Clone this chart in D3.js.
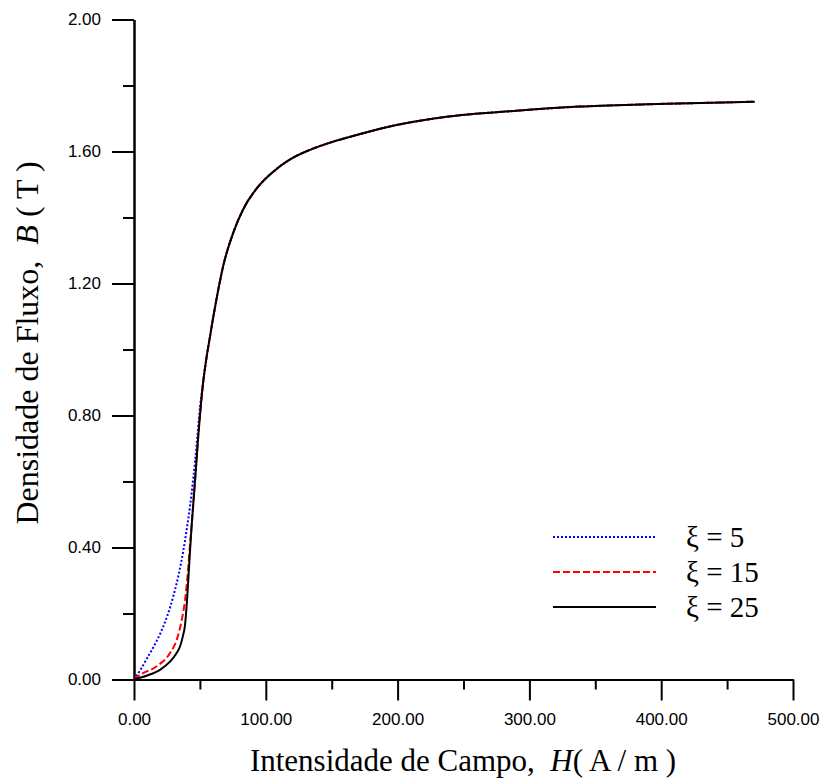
<!DOCTYPE html>
<html><head><meta charset="utf-8">
<script src="https://cdn.jsdelivr.net/npm/d3@7"></script>
<style>body{margin:0;background:#fff}</style>
</head><body>
<svg id="c" width="826" height="781"></svg>
<script>
// Shared upper branch (H in A/m, B in T)
const upperH = [52.6, 55, 57.7, 60.2, 62.7, 67.8, 75.4, 82.9, 93.1, 105.7, 118.4, 133.5, 151.2, 169, 190, 237, 288, 338, 389, 439.5, 471];
const upperB = [0.905, 0.975, 1.04, 1.10, 1.155, 1.255, 1.355, 1.425, 1.488, 1.539, 1.576, 1.605, 1.630, 1.650, 1.672, 1.705, 1.723, 1.736, 1.743, 1.748, 1.751];
// Lower branches per xi
const xi5H  = [0, 5, 10, 15, 20, 25, 30, 34, 37.4, 40, 42.5, 45, 47.5, 50.2];
const xi5B  = [0, 0.03, 0.065, 0.10, 0.14, 0.19, 0.255, 0.32, 0.39, 0.455, 0.525, 0.61, 0.71, 0.83];
const xi15H = [0, 4.5, 17.2, 27.3, 32.4, 36.2, 38.7, 41.2, 42.5, 43.8, 45.5, 47, 48.8, 50.7];
const xi15B = [0, 0.014, 0.04, 0.08, 0.12, 0.18, 0.24, 0.34, 0.41, 0.47, 0.56, 0.64, 0.74, 0.83];
const xi25H = [0, 10, 20, 27.3, 32, 34.9, 37, 38.7, 40.4, 41.9, 43.8, 45.5, 47, 48.8, 50.7];
const xi25B = [0, 0.012, 0.03, 0.054, 0.078, 0.10, 0.13, 0.165, 0.25, 0.35, 0.47, 0.56, 0.64, 0.74, 0.83];
const seriesNames = ["ξ = 5", "ξ = 15", "ξ = 25"];
const xTicks = [0, 100, 200, 300, 400, 500];
const yTicks = [0, 0.4, 0.8, 1.2, 1.6, 2.0];

const svg = d3.select("#c");
const x = d3.scaleLinear().domain([0, 500]).range([134, 793]);
const y = d3.scaleLinear().domain([0, 2]).range([679.5, 19.5]);

function makeSeries(h, b) {
  const pts = h.map((v, i) => [v, b[i]]);
  return pts.concat(upperH.map((v, i) => [v, upperB[i]]));
}
const series = [
  {name: seriesNames[0], data: makeSeries(xi5H, xi5B), color: "#0000ff", dash: "2,2"},
  {name: seriesNames[1], data: makeSeries(xi15H, xi15B), color: "#ff0000", dash: "7,3"},
  {name: seriesNames[2], data: makeSeries(xi25H, xi25B), color: "#000000", dash: null}
];

const line = d3.line().x(d => x(d[0])).y(d => y(d[1])).curve(d3.curveMonotoneX);

// axes
const xAxisMajor = d3.axisBottom(x).tickValues(xTicks).tickSize(21).tickSizeOuter(0).tickFormat(d3.format(".2f"));
const xAxisMinor = d3.axisBottom(x).tickValues([50,150,250,350,450]).tickSize(10).tickSizeOuter(0).tickFormat("");
const yAxisMajor = d3.axisLeft(y).tickValues(yTicks).tickSize(22).tickSizeOuter(0).tickFormat(d3.format(".2f"));
const yAxisMinor = d3.axisLeft(y).tickValues([0.2,0.6,1.0,1.4,1.8]).tickSize(11).tickSizeOuter(0).tickFormat("");

function styleAxis(g) {
  g.select(".domain").attr("stroke", "#000").attr("stroke-width", 2);
  g.selectAll(".tick line").attr("stroke", "#000").attr("stroke-width", 2);
  g.selectAll(".tick text").attr("fill", "#000").style("font-family", "Liberation Sans, Arial, sans-serif").style("font-size", "17px");
}
const gx = svg.append("g").attr("transform", "translate(0,679.5)");
gx.call(xAxisMajor); styleAxis(gx);
gx.selectAll(".tick text").attr("dy", "0").attr("y", 45);
const gx2 = svg.append("g").attr("transform", "translate(0,679.5)");
gx2.call(xAxisMinor); styleAxis(gx2);
const gy = svg.append("g").attr("transform", "translate(134,0)");
gy.call(yAxisMajor); styleAxis(gy);
gy.selectAll(".tick text").attr("x", -33);
const gy2 = svg.append("g").attr("transform", "translate(134,0)");
gy2.call(yAxisMinor); styleAxis(gy2);

// curves
series.forEach(s => {
  svg.append("path").datum(s.data).attr("d", line)
    .attr("fill", "none").attr("stroke", s.color).attr("stroke-width", 2)
    .attr("stroke-dasharray", s.dash);
});

// legend
const legY = [537, 572, 607];
series.forEach((s, i) => {
  svg.append("line").attr("x1", 553).attr("x2", 656).attr("y1", legY[i]).attr("y2", legY[i])
    .attr("stroke", s.color).attr("stroke-width", 2).attr("stroke-dasharray", s.dash);
  svg.append("text").attr("x", 686).attr("y", legY[i] + 10)
    .style("font-family", "Liberation Serif, Times New Roman, serif").style("font-size", "29px")
    .attr("xml:space", "preserve")
    .text(s.name);
});

// titles
const xt = svg.append("text").attr("x", 463).attr("y", 771).attr("text-anchor", "middle")
  .style("font-family", "Liberation Serif, Times New Roman, serif").style("font-size", "31px")
  .attr("xml:space", "preserve");
xt.append("tspan").text("Intensidade de Campo,  ");
xt.append("tspan").attr("font-style", "italic").text("H");
xt.append("tspan").text("( A / m )");

const yt = svg.append("text").attr("transform", "translate(38,343) rotate(-90)").attr("text-anchor", "middle")
  .style("font-family", "Liberation Serif, Times New Roman, serif").style("font-size", "32px")
  .attr("xml:space", "preserve");
yt.append("tspan").text("Densidade de Fluxo,  ");
yt.append("tspan").attr("font-style", "italic").text("B");
yt.append("tspan").text(" ( T )");
</script>
</body></html>
